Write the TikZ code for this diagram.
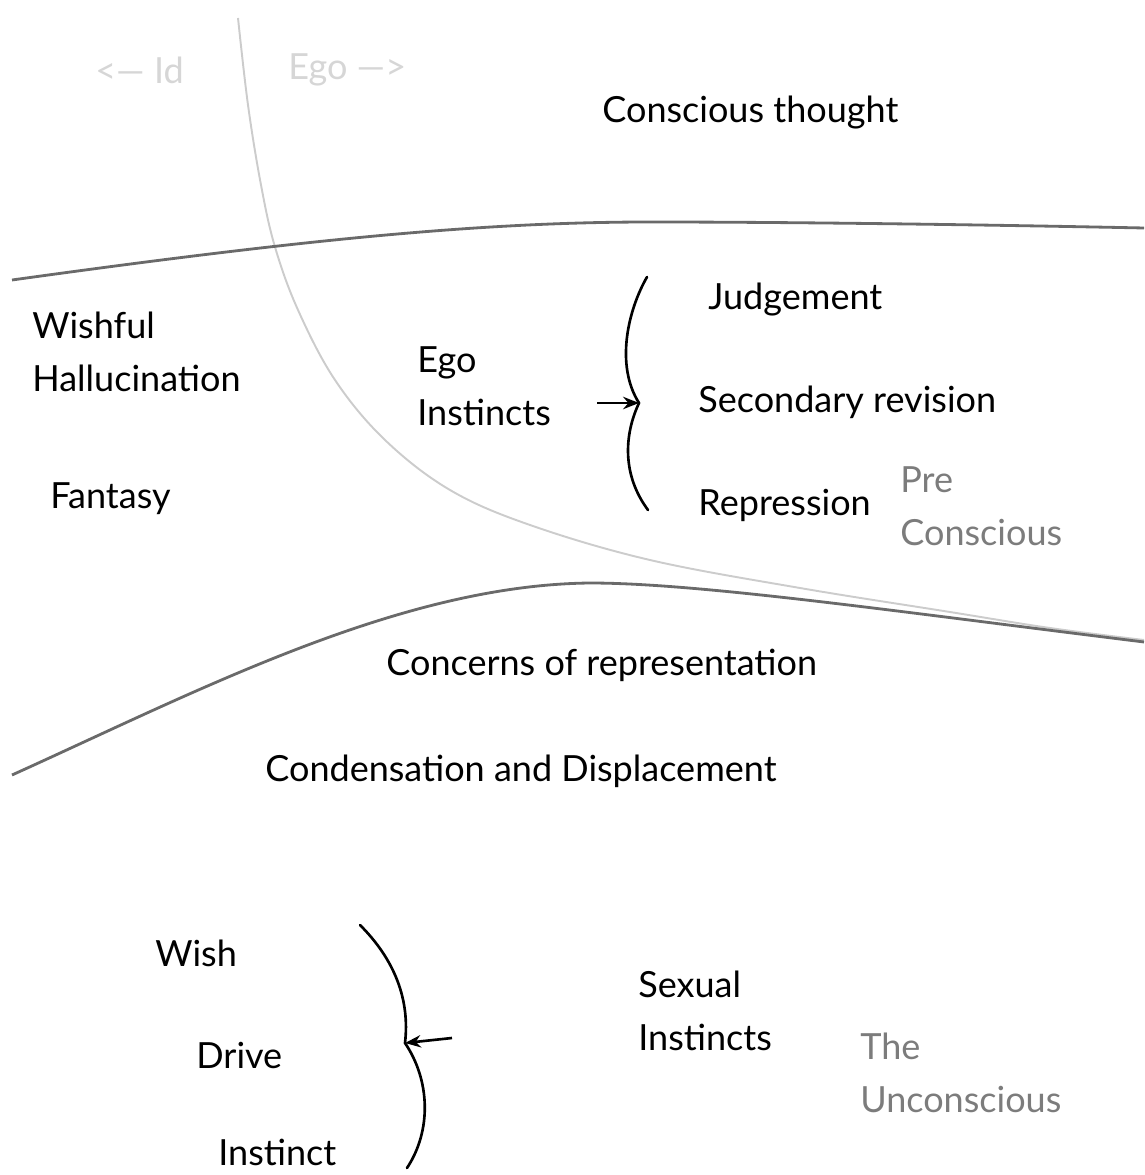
\documentclass[tikz,border=0pt]{standalone}
\usepackage{fontspec}
\setmainfont{Lato}
\usetikzlibrary{arrows.meta}
\definecolor{bordergray}{HTML}{6A6A6A}
\definecolor{idgray}{HTML}{CCCCCC}
\definecolor{labelgray}{HTML}{D6D6D6}
\definecolor{levelgray}{HTML}{7C7C7C}
\tikzset{
	term/.style={anchor=west, inner sep=0pt, align=left, font=\fontsize{20.5}{30}\selectfont},
	level/.style={term, text=levelgray},
	side/.style={term, text=labelgray},
	border/.style={draw=bordergray, line width=1.6pt},
	egoline/.style={draw=idgray, line width=1.1pt},
	brace/.style={draw=black, line width=1.5pt, line cap=round},
	pointer/.style={draw=black, line width=1.5pt, -{Stealth[length=9pt,width=7pt]}}
}
\begin{document}
\begin{tikzpicture}[x=0.02cm, y=-0.02cm]
	\useasboundingbox (0,0) rectangle (1144,1175);
	% dividing lines
	\draw[egoline] plot[smooth, tension=0.6] coordinates {(238,18) (248,105) (261,185) (275,247) (298,310) (335,380) (385,440) (450,490) (530,525) (650,560) (800,588) (950,612) (1050,628) (1144,640)};
	\draw[border] (12,280) .. controls (300,240) and (480,222) .. (650,222)
		.. controls (800,222) and (1000,225) .. (1144,228);
	\draw[border] (12,775) .. controls (200,690) and (400,585) .. (590,583)
		.. controls (700,583) and (900,612) .. (1144,642);
	% region names
	\node[side] (id) at (95,70) {<\textemdash{} Id};
	\node[side] (ego) at (288,70) {Ego \textemdash{}>};
	\node[term] (conscious) at (602,113) {Conscious thought};
	\node[term] (wishful) at (32,352) {Wishful\\Hallucination};
	\node[term] (fantasy) at (50,499) {Fantasy};
	\node[term] (egoinst) at (417,386) {Ego\\Instincts};
	\node[term] (judgement) at (708,300) {Judgement};
	\node[term] (revision) at (698,402) {Secondary revision};
	\node[term] (repression) at (698,505) {Repression};
	\node[level] (precon) at (900,506) {Pre\\Conscious};
	\node[term] (concerns) at (386,665) {Concerns of representation};
	\node[term] (condens) at (265,771) {Condensation and Displacement};
	\node[term] (wish) at (155,953) {Wish};
	\node[term] (drive) at (196,1055) {Drive};
	\node[term] (instinct) at (218,1152) {Instinct};
	\node[term] (sexinst) at (638,1011) {Sexual\\Instincts};
	\node[level] (uncon) at (860,1073) {The\\Unconscious};
	% braces
	\coordinate (upperapex) at (639,403);
	\coordinate (uppertail) at (597,403);
	\draw[brace] (647,277) .. controls (628,310) and (615,365) .. (upperapex)
		.. controls (624,435) and (622,475) .. (648,510);
	\draw[pointer] (uppertail) -- (upperapex);
	\coordinate (lowerapex) at (405,1043);
	\coordinate (lowertail) at (452,1038);
	\draw[brace] (360,925) .. controls (395,960) and (410,1000) .. (lowerapex)
		.. controls (430,1080) and (432,1130) .. (407,1168);
	\draw[pointer] (lowertail) -- (lowerapex);
\end{tikzpicture}
\end{document}
